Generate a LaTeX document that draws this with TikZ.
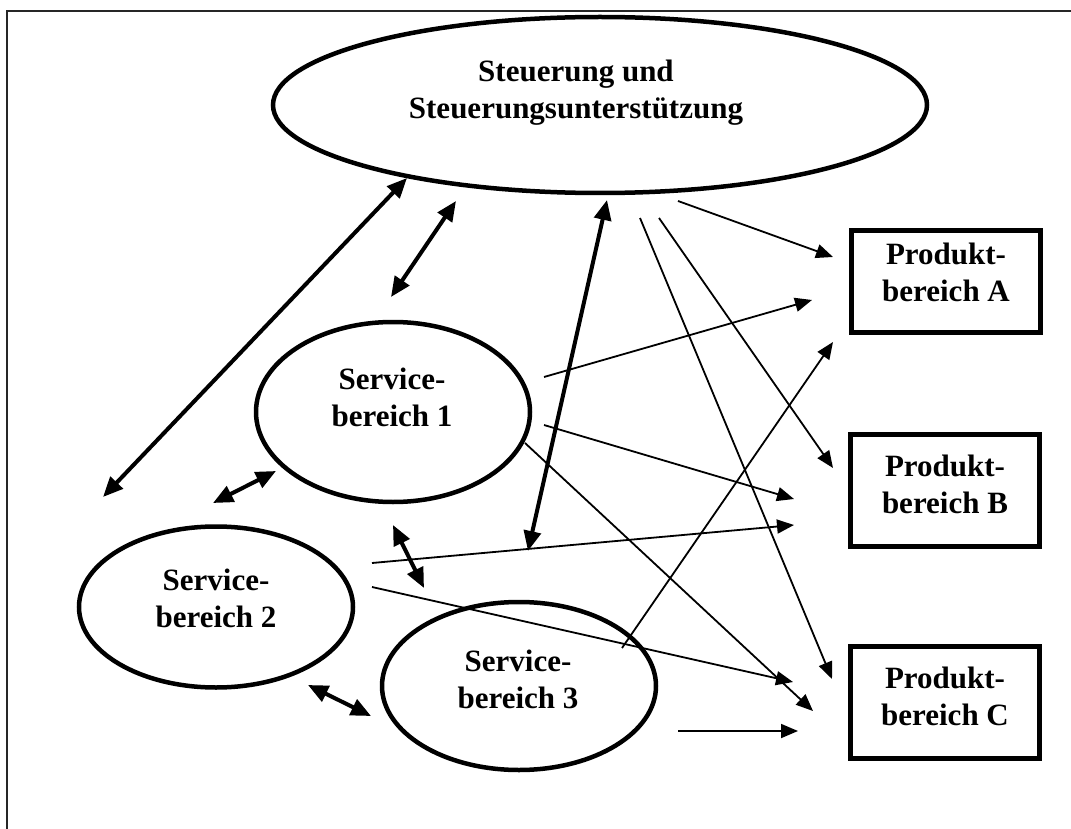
\documentclass[tikz,border=0pt]{standalone}
\usepackage{fontspec}
\setmainfont{Liberation Serif}
\usetikzlibrary{shapes.geometric,arrows.meta}
\begin{document}
\begin{tikzpicture}[x=1pt,y=-1pt,
  every node/.style={inner sep=0pt, outer sep=0pt},
  oval/.style={draw, ellipse, line width=4.5pt},
  pbox/.style={draw, rectangle, line width=5pt, minimum width=189pt, minimum height=112pt},
  lbl/.style={font=\fontsize{31pt}{37pt}\selectfont\bfseries, align=center},
  dbl/.style={line width=4pt, {Triangle[length=20pt,width=17pt]}-{Triangle[length=20pt,width=17pt]}},
  sgl/.style={line width=1.8pt, -{Triangle[length=17pt,width=14pt]}},
  frame/.style={line width=2pt, draw=black!85}
]
\useasboundingbox (0,0) rectangle (1071,829);
\draw[frame] (6.5,829) -- (6.5,11) -- (1071,11);

% shapes
\node[oval, minimum width=654pt, minimum height=176pt] (st) at (600,105) {};
\node[lbl] (stt) at (576,93) {Steuerung und\\Steuerungsunterstützung};

\node[oval, minimum width=274pt, minimum height=180pt] (s1) at (393,412) {};
\node[lbl] (s1t) at (392,397) {Service-\\bereich 1};

\node[oval, minimum width=274pt, minimum height=161pt] (s2) at (216,607) {};
\node[lbl] (s2t) at (216,598) {Service-\\bereich 2};

\node[oval, minimum width=274pt, minimum height=168pt] (s3) at (519,686) {};
\node[lbl] (s3t) at (518,679) {Service-\\bereich 3};

\node[pbox, minimum height=102pt] (pa) at (946,281.5) {};
\node[lbl] (pat) at (946,272) {Produkt-\\bereich A};
\node[pbox] (pb) at (945,490.5) {};
\node[lbl] (pbt) at (945,484.5) {Produkt-\\bereich B};
\node[pbox] (pc) at (945,702) {};
\node[lbl] (pct) at (945,696.5) {Produkt-\\bereich C};

% connector end points
\coordinate (a1s) at (103,497);  \coordinate (a1e) at (407,178);
\coordinate (a2s) at (391,297);  \coordinate (a2e) at (456,201);
\coordinate (a3s) at (213,503);  \coordinate (a3e) at (276,471);
\coordinate (a4s) at (393,525);  \coordinate (a4e) at (424,588);
\coordinate (a5s) at (308,685);  \coordinate (a5e) at (371,716);
\coordinate (a6s) at (607,200);  \coordinate (a6e) at (528,551);

\coordinate (t1s) at (678,201);  \coordinate (t1e) at (833,257);
\coordinate (t2s) at (640,218);  \coordinate (t2e) at (832,679);
\coordinate (t3s) at (659,218);  \coordinate (t3e) at (833,468);
\coordinate (t4s) at (544,377);  \coordinate (t4e) at (812,300);
\coordinate (t5s) at (544,425);  \coordinate (t5e) at (794,499);
\coordinate (t6s) at (525,443);  \coordinate (t6e) at (813,711);
\coordinate (t7s) at (372,563);  \coordinate (t7e) at (794,525);
\coordinate (t8s) at (372,587);  \coordinate (t8e) at (793,682);
\coordinate (t9s) at (622,648);  \coordinate (t9e) at (833,342);
\coordinate (t10s) at (678,731); \coordinate (t10e) at (798,731);

% double arrows
\draw[dbl] (a1s) -- (a1e);
\draw[dbl] (a2s) -- (a2e);
\draw[dbl] (a3s) -- (a3e);
\draw[dbl] (a4s) -- (a4e);
\draw[dbl] (a5s) -- (a5e);
\draw[dbl] (a6s) -- (a6e);

% single arrows
\draw[sgl] (t1s) -- (t1e);
\draw[sgl] (t2s) -- (t2e);
\draw[sgl] (t3s) -- (t3e);
\draw[sgl] (t4s) -- (t4e);
\draw[sgl] (t5s) -- (t5e);
\draw[sgl] (t6s) -- (t6e);
\draw[sgl] (t7s) -- (t7e);
\draw[sgl] (t8s) -- (t8e);
\draw[sgl] (t9s) -- (t9e);
\draw[sgl] (t10s) -- (t10e);
\end{tikzpicture}
\end{document}
